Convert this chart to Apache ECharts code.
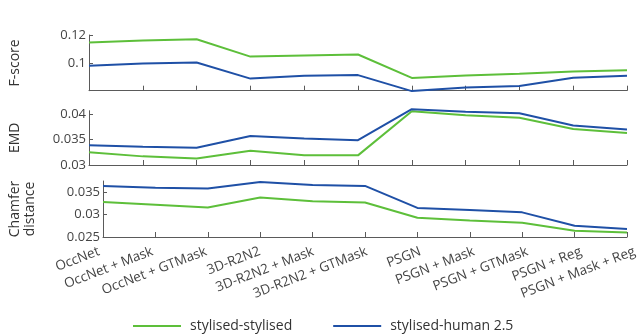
<!DOCTYPE html>
<html>
<head>
<meta charset="utf-8">
<script src="https://cdn.jsdelivr.net/npm/echarts@6/dist/echarts.min.js"></script>
<style>html,body{margin:0;padding:0;background:#fff;}#c{width:640px;height:335px;}</style>
</head>
<body>
<div id="c"></div>
<script>
const categories = ['OccNet','OccNet + Mask','OccNet + GTMask','3D-R2N2','3D-R2N2 + Mask','3D-R2N2 + GTMask','PSGN','PSGN + Mask','PSGN + GTMask','PSGN + Reg','PSGN + Mask + Reg'];
const seriesNames = ['stylised-stylised','stylised-human 2.5'];
const fscoreStylised = [0.1147,0.1160,0.1170,0.1045,0.1053,0.1060,0.0892,0.0910,0.0922,0.0937,0.0946];
const fscoreHuman    = [0.0979,0.0995,0.1002,0.0887,0.0907,0.0912,0.0797,0.0823,0.0834,0.0893,0.0907];
const emdStylised = [0.0325,0.0317,0.0313,0.0328,0.0319,0.0319,0.0406,0.0398,0.0393,0.0371,0.0363];
const emdHuman    = [0.0339,0.0336,0.0334,0.0357,0.0352,0.0349,0.0410,0.0405,0.0402,0.0378,0.0370];
const cdStylised = [0.0328,0.0322,0.0316,0.0338,0.0330,0.0327,0.0293,0.0287,0.0282,0.0264,0.0260];
const cdHuman    = [0.0364,0.0360,0.0358,0.0373,0.0366,0.0364,0.0315,0.0310,0.0305,0.0275,0.0268];
const yNames = ['F-score','EMD','Chamfer\ndistance'];

const GREEN = '#5dbf3a', BLUE = '#1f50a6';
const AX = '#5a5a5a', TXT = '#444';
const FONT = 'Open Sans';

const grids = [
  {left:87, width:540, top:35, height:55.7},
  {left:87, width:540, top:110.7, height:54.3},
  {left:87, width:540, top:181, height:56},
  {left:99, width:540, top:181, height:56}
];
const yCfg = [
  {min:0.08, max:0.12, interval:0.02},
  {min:0.03, max:0.0407, interval:0.005},
  {min:0.025, max:0.0375, interval:0.005}
];
const fmt = v => String(+v.toFixed(4));

const xAxes = [0,1,2].map(i => ({
  type:'category', gridIndex:i, data:categories, boundaryGap:false,
  axisLine:{lineStyle:{color:AX, width:1}},
  axisTick:{inside:true, length:5, lineStyle:{color:AX}, alignWithLabel:true, interval:0},
  axisLabel:{show:false}, splitLine:{show:false}
}));
xAxes.push({
  type:'category', gridIndex:3, data:categories, boundaryGap:false,
  axisLine:{show:false}, axisTick:{show:false}, splitLine:{show:false},
  axisLabel:{show:true, interval:0, rotate:21, margin:14, fontFamily:FONT, fontSize:13.5, color:TXT}
});
const yAxes = [0,1,2].map(i => ({
  type:'value', gridIndex:i, min:yCfg[i].min, max:yCfg[i].max, interval:yCfg[i].interval,
  name:yNames[i], nameLocation:'middle', nameRotate:90, nameGap: i===2 ? 65 : 66,
  nameTextStyle:{fontFamily:FONT, fontSize:14, color:'#333', lineHeight:15},
  axisLine:{show:true, lineStyle:{color:AX, width:1}},
  axisTick:{show:true, inside:true, length:4, lineStyle:{color:AX}},
  axisLabel:{formatter:fmt, showMinLabel: i!==0, showMaxLabel: i===0, margin:3, fontFamily:FONT, fontSize:13, color:TXT},
  splitLine:{show:false}
}));
yAxes.push({type:'value', gridIndex:3, show:false});

function line(name, data, color, idx){
  return {type:'line', name:name, data:data, xAxisIndex:idx, yAxisIndex:idx, symbol:'none', clip:false,
    lineStyle:{color:color, width:2}, itemStyle:{color:color}, emphasis:{disabled:true}};
}
const series = [
  line(seriesNames[0], fscoreStylised, GREEN, 0),
  line(seriesNames[1], fscoreHuman, BLUE, 0),
  line(seriesNames[0], emdStylised, GREEN, 1),
  line(seriesNames[1], emdHuman, BLUE, 1),
  line(seriesNames[0], cdStylised, GREEN, 2),
  line(seriesNames[1], cdHuman, BLUE, 2)
];

const chart = echarts.init(document.getElementById('c'), null, {renderer:'canvas'});
chart.setOption({
  animation:false,
  backgroundColor:'#fff',
  grid:grids,
  xAxis:xAxes,
  yAxis:yAxes,
  legend:{data:seriesNames, left:128, top:314, icon:'rect', itemWidth:48, itemHeight:2, itemGap:41,
    textStyle:{fontFamily:FONT, fontSize:14, color:'#333', padding:[0,0,0,4]}},
  series:series
});
</script>
</body>
</html>
